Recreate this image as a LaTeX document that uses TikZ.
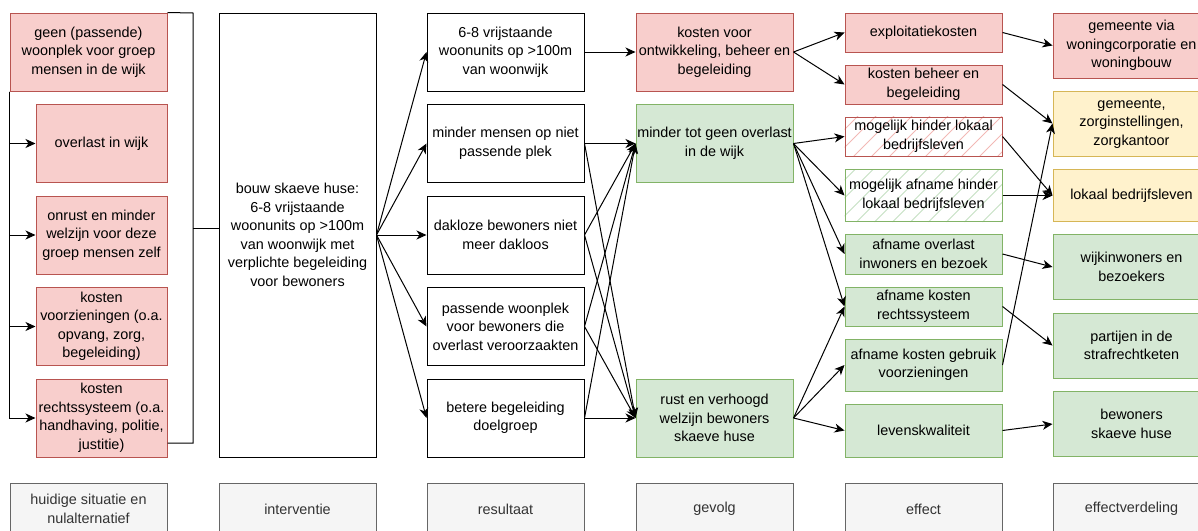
\documentclass[tikz,border=0pt]{standalone}
\usepackage{fontspec}
\setmainfont{Liberation Sans}
\usetikzlibrary{arrows.meta,backgrounds}
\definecolor{redfill}{HTML}{F8CECC}
\definecolor{redline}{HTML}{B85450}
\definecolor{greenfill}{HTML}{D5E8D4}
\definecolor{greenline}{HTML}{82B366}
\definecolor{yellowfill}{HTML}{FFF2CC}
\definecolor{yellowline}{HTML}{D6B656}
\definecolor{grayfill}{HTML}{F5F5F5}
\definecolor{grayline}{HTML}{666666}
\definecolor{graytext}{HTML}{333333}
\definecolor{redhatch}{HTML}{F2B8B5}
\definecolor{greenhatch}{HTML}{C4DFC2}
\begin{document}
\begin{tikzpicture}[x=1pt,y=-1pt,
  box/.style={draw, line width=1pt, align=center, inner sep=0pt, minimum width=157pt, minimum height=78pt, font=\fontsize{14.4}{18.5}\selectfont},
  wbox/.style={box, fill=white, draw=black},
  rbox/.style={box, fill=redfill, draw=redline},
  gbox/.style={box, fill=greenfill, draw=greenline},
  ybox/.style={box, fill=yellowfill, draw=yellowline},
  lbox/.style={box, fill=grayfill, draw=grayline, text=graytext, minimum height=52pt},
  narrow/.style={minimum width=131pt},
  arr/.style={line width=1pt, -{Stealth[length=10pt,width=9pt,inset=3pt]}},
  ln/.style={line width=1pt},
  hatchr/.style={redhatch, line width=1pt},
  hatchg/.style={greenhatch, line width=1pt},
]
\useasboundingbox (0,0) rectangle (1198,530);

% column 1
\node[rbox] (A1) at (88.5,52) {geen (passende)\\woonplek voor groep\\mensen in de wijk};
\node[rbox,narrow] (A2) at (101.5,143.5) {overlast in wijk};
\node[rbox,narrow] (A3) at (101.5,235) {onrust en minder\\welzijn voor deze\\groep mensen zelf};
\node[rbox,narrow] (A4) at (101.5,326.5) {kosten\\voorzieningen (o.a.\\opvang, zorg,\\begeleiding)};
\node[rbox,narrow] (A5) at (101.5,418) {kosten\\rechtssysteem (o.a.\\handhaving, politie,\\justitie)};

% column 2
\node[wbox, minimum height=444pt] (I) at (297.5,235) {bouw skaeve huse:\\6-8 vrijstaande\\woonunits op >100m\\van woonwijk met\\verplichte begeleiding\\voor bewoners};

% column 3
\node[wbox] (R1) at (505.5,52) {6-8 vrijstaande\\woonunits op >100m\\van woonwijk};
\node[wbox] (R2) at (505.5,143.5) {minder mensen op niet\\passende plek};
\node[wbox] (R3) at (505.5,235) {dakloze bewoners niet\\meer dakloos};
\node[wbox] (R4) at (505.5,326.5) {passende woonplek\\voor bewoners die\\overlast veroorzaakten};
\node[wbox] (R5) at (505.5,418) {betere begeleiding\\doelgroep};

% column 4
\node[rbox] (G1) at (714.5,52) {kosten voor\\ontwikkeling, beheer en\\begeleiding};
\node[gbox] (G2) at (714.5,143.5) {minder tot geen overlast\\in de wijk};
\node[gbox] (G3) at (714.5,418) {rust en verhoogd\\welzijn bewoners\\skaeve huse};

% column 5
\node[rbox, minimum height=39pt] (E1) at (923.5,32.5) {exploitatiekosten};
\node[rbox, minimum height=39pt] (E2) at (923.5,84.5) {kosten beheer en\\begeleiding};
\node[box, draw=redline, minimum height=39pt] (E3) at (923.5,136.5) {mogelijk hinder lokaal\\bedrijfsleven};
\node[box, draw=greenline, minimum height=52pt] (E4) at (923.5,195.5) {mogelijk afname hinder\\lokaal bedrijfsleven};
\node[gbox, minimum height=40pt] (E5) at (923.5,254) {afname overlast\\inwoners en bezoek};
\node[gbox, minimum height=39pt] (E6) at (923.5,306.5) {afname kosten\\rechtssysteem};
\node[gbox, minimum height=52pt] (E7) at (923.5,365) {afname kosten gebruik\\voorzieningen};
\node[gbox, minimum height=53pt] (E8) at (923.5,430.5) {levenskwaliteit};

\begin{pgfonlayer}{background}
  \begin{scope}
    \clip (E3.south west) rectangle (E3.north east);
    \foreach \i in {0,...,11}
      \draw[hatchr] ([xshift=\i*18pt-45pt]E3.south west) -- ++(50,-50);
  \end{scope}
  \begin{scope}
    \clip (E4.south west) rectangle (E4.north east);
    \foreach \i in {0,...,12}
      \draw[hatchg] ([xshift=\i*18pt-60pt]E4.south west) -- ++(65,-65);
  \end{scope}
\end{pgfonlayer}

% column 6
\node[rbox, minimum height=65pt] (F1) at (1131.5,45.5) {gemeente via\\woningcorporatie en\\woningbouw};
\node[ybox, minimum height=65pt] (F2) at (1131.5,123.5) {gemeente,\\zorginstellingen,\\zorgkantoor};
\node[ybox, minimum height=52pt] (F3) at (1131.5,195.5) {lokaal bedrijfsleven};
\node[gbox, minimum height=65pt] (F4) at (1131.5,267) {wijkinwoners en\\bezoekers};
\node[gbox, minimum height=65pt] (F5) at (1131.5,345.5) {partijen in de\\strafrechtketen};
\node[gbox, minimum height=65pt] (F6) at (1131.5,424) {bewoners\\skaeve huse};

% labels
\node[lbox] (L1) at (88.5,509) {huidige situatie en\\nulalternatief};
\node[lbox] (L2) at (297.5,509) {interventie};
\node[lbox] (L3) at (505.5,509) {resultaat};
\node[lbox] (L4) at (714.5,509) {gevolg};
\node[lbox] (L5) at (923.5,509) {effect};
\node[lbox] (L6) at (1131.5,509) {effectverdeling};

% left column connectors
\draw[arr] (A1.south west) |- (A2.west);
\draw[arr] (A1.south west) |- (A3.west);
\draw[arr] (A1.south west) |- (A4.west);
\draw[arr] (A1.south west) |- (A5.west);

% bracket
\coordinate (brT) at (193,13);
\coordinate (brB) at (193,443);
\coordinate (brM) at (193,228);
\draw[ln] (A1.north east) -- (brT) -- (brB) -- (A5.east |- brB);
\draw[ln] (brM) -- (I.west |- brM);

% interventie -> resultaat
\foreach \r in {R1,R2,R3,R4,R5} \draw[arr] (I.east) -- (\r.west);

% resultaat -> gevolg
\draw[arr] (R1.east) -- (G1.west);
\foreach \r in {R2,R3,R4,R5} {
  \draw[arr] (\r.east) -- (G2.west);
  \draw[arr] (\r.east) -- (G3.west);
}

% gevolg -> effect
\draw[arr] (G1.east) -- (E1.west);
\draw[arr] (G1.east) -- (E2.west);
\foreach \e in {E3,E4,E5,E6} \draw[arr] (G2.east) -- (\e.west);
\foreach \e in {E6,E7,E8} \draw[arr] (G3.east) -- (\e.west);

% effect -> effectverdeling
\draw[arr] (E1.east) -- (F1.west);
\draw[arr] (E2.east) -- (F2.west);
\draw[arr] (E3.east) -- (F3.west);
\draw[arr] (E4.east) -- (F3.west);
\draw[arr] (E5.east) -- (F4.west);
\draw[arr] (E6.east) -- (F5.west);
\draw[arr] (E7.east) -- (F2.west);
\draw[arr] (E8.east) -- (F6.west);
\end{tikzpicture}
\end{document}
